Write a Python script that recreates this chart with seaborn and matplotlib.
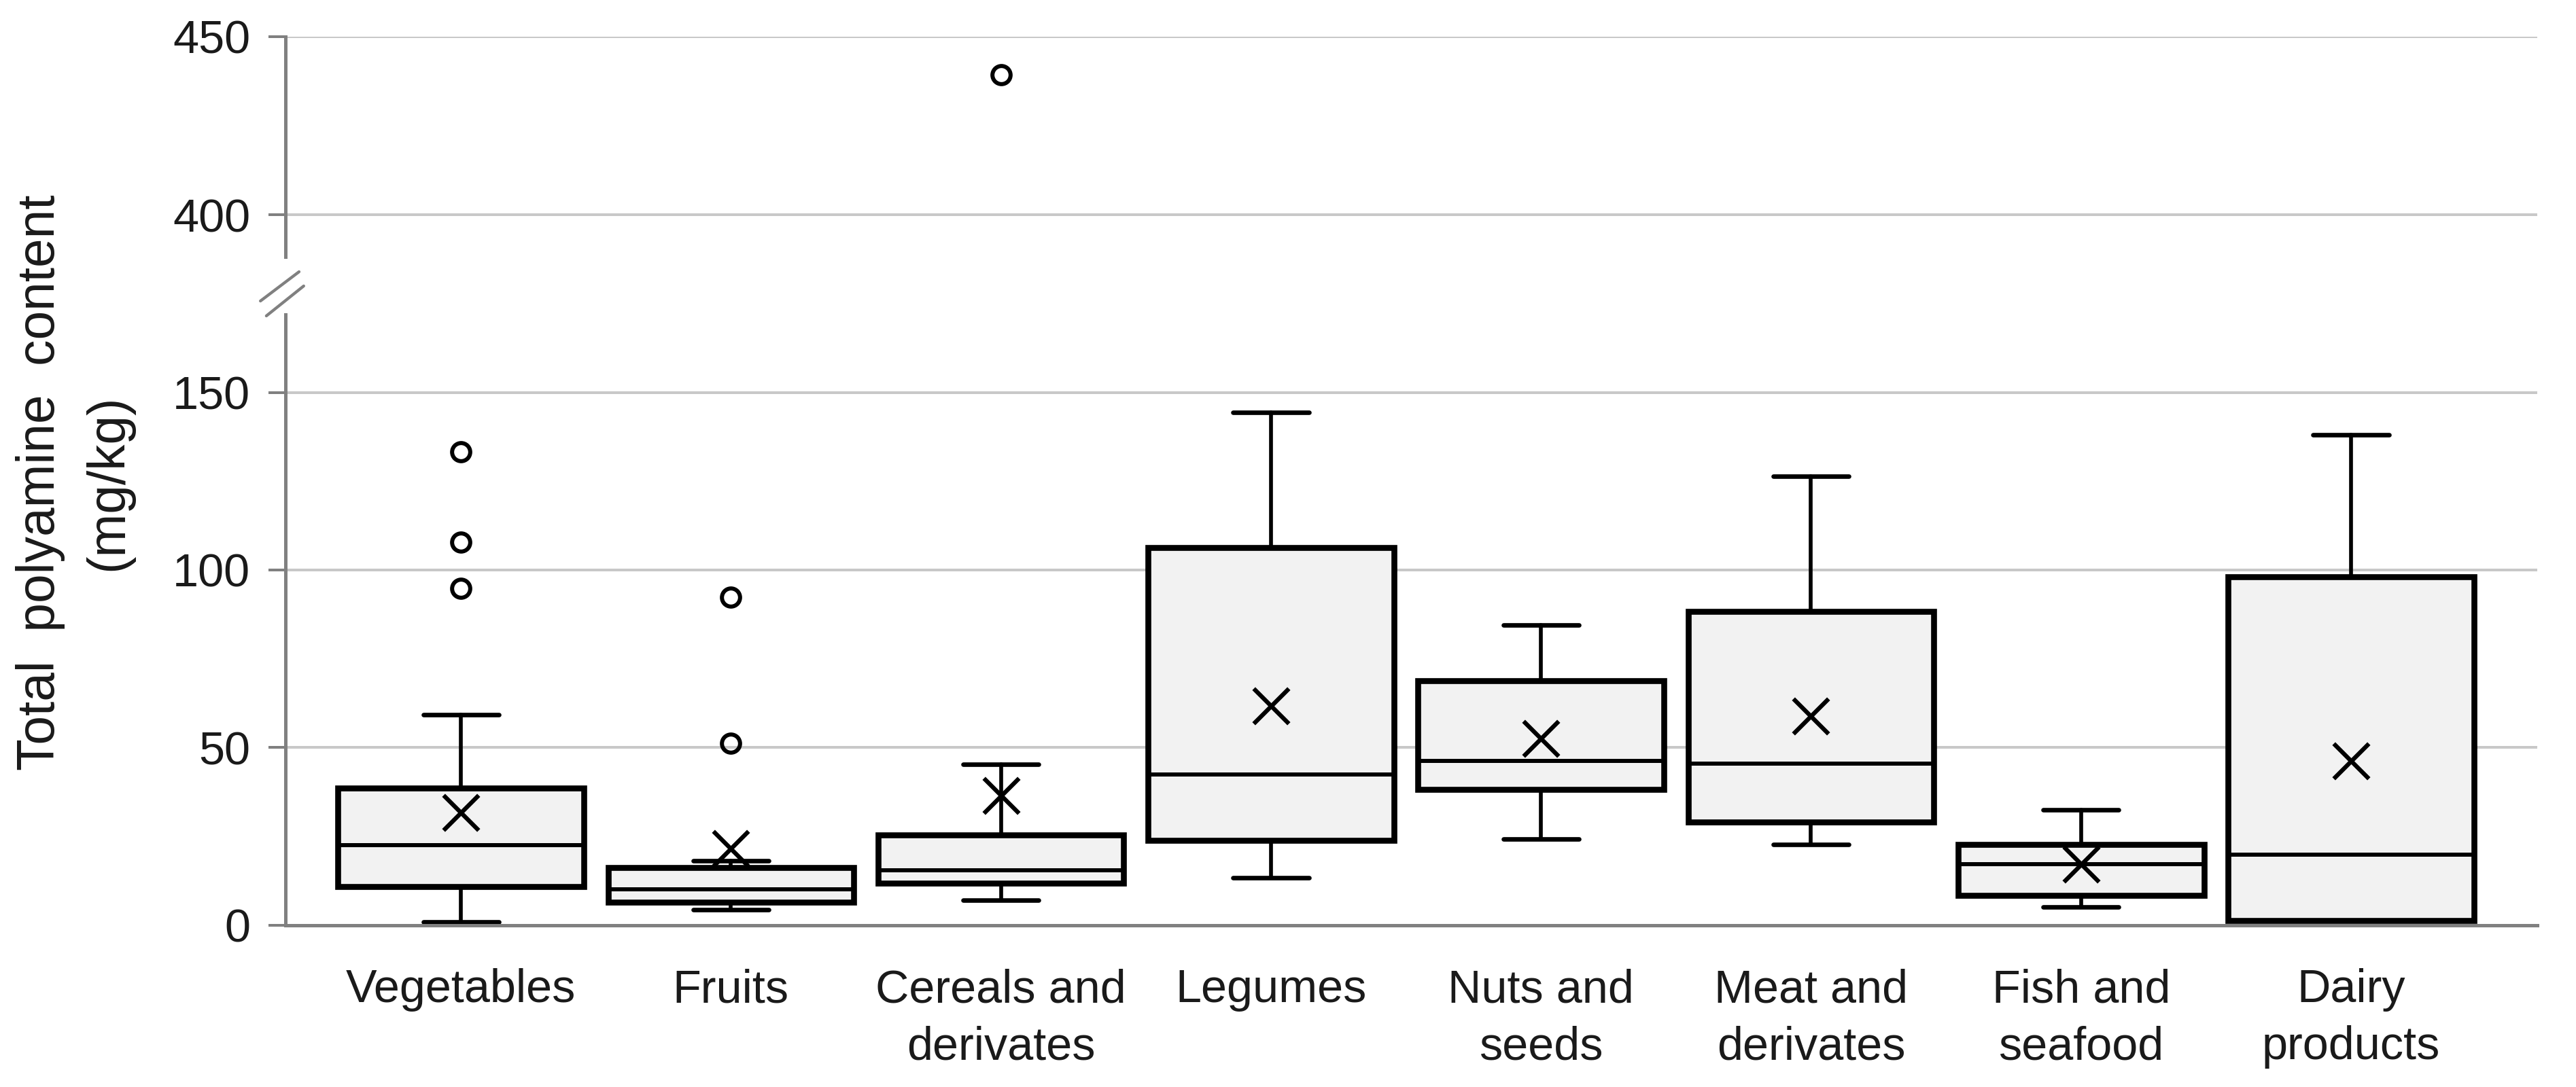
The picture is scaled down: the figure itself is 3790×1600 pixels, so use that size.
import numpy as np
import pandas as pd
import matplotlib.pyplot as plt
from matplotlib.lines import Line2D
import seaborn as sns

# values (mg/kg)
categories = ["Vegetables", "Fruits", "Cereals and\nderivates", "Legumes",
              "Nuts and\nseeds", "Meat and\nderivates", "Fish and\nseafood", "Dairy\nproducts"]
whisker_low = [1.0, 4.4, 7.0, 13.3, 24.3, 22.7, 5.1, 1.3]
q1 = [10.9, 6.5, 11.8, 23.8, 38.3, 29.1, 8.3, 1.3]
median = [22.5, 10.1, 15.4, 42.5, 46.3, 45.5, 17.1, 19.8]
q3 = [38.5, 16.2, 25.3, 106.3, 68.8, 88.3, 22.8, 98.1]
whisker_high = [59.2, 18.1, 45.3, 144.4, 84.5, 126.4, 32.5, 138.1]
means = [31.8, 21.6, 36.4, 61.8, 52.5, 58.8, 17.1, 46.3]
outliers = [[94.9, 107.9, 133.2], [51.3, 92.3], [439.3], [], [], [], [], []]

ylabel_lines = ["Total  polyamine  content", "(mg/kg)"]

sns.set_theme(style="whitegrid")
plt.rcParams['font.family'] = ['Liberation Sans', 'DejaVu Sans']

stats = []
for i, name in enumerate(categories):
    stats.append(dict(label=name, whislo=whisker_low[i], q1=q1[i], med=median[i],
                      q3=q3[i], whishi=whisker_high[i], mean=means[i], fliers=outliers[i]))
positions = np.arange(len(categories))
means_df = pd.DataFrame({"pos": positions, "mean": means})

fig = plt.figure(figsize=(3790 / 240, 1600 / 240), dpi=240)
left, width = 0.1108, 0.985 - 0.1108
ax_top = fig.add_axes([left, 0.7638, width, 0.9663 - 0.7638])
ax_bot = fig.add_axes([left, 0.1489, width, 0.7106 - 0.1489])

box_kw = dict(positions=positions, widths=0.91, capwidths=0.28, patch_artist=True,
              showfliers=True, manage_ticks=False,
              boxprops=dict(facecolor='#f2f2f2', edgecolor='black', linewidth=2.6),
              medianprops=dict(color='black', linewidth=1.8),
              whiskerprops=dict(color='black', linewidth=1.7),
              capprops=dict(color='black', linewidth=2.0),
              flierprops=dict(marker='o', markerfacecolor='none', markeredgecolor='black',
                              markersize=8, markeredgewidth=1.8))

for ax in (ax_top, ax_bot):
    ax.set_axisbelow(True)
    ax.bxp(stats, **box_kw)
    sns.scatterplot(data=means_df, x="pos", y="mean", marker="x", s=240, color="black",
                    linewidth=1.9, ax=ax, zorder=5, legend=False)
    ax.set_xlim(-0.65, 7.69)
    ax.set_xlabel("")
    ax.set_ylabel("")
    ax.grid(axis='x', visible=False)
    ax.grid(axis='y', color='#c8c8c8', linewidth=1.2)
    for s in ('top', 'right'):
        ax.spines[s].set_visible(False)
    ax.spines['left'].set_color('#808080')
    ax.spines['left'].set_linewidth(1.5)
    ax.tick_params(axis='y', left=True, length=7.5, width=1.2, color='#808080', pad=8,
                   labelsize=20.5, labelcolor='#1a1a1a')

ax_top.set_ylim(388.2, 450)
ax_top.set_yticks([400, 450])
ax_top.spines['bottom'].set_visible(False)
ax_top.set_xticks([])

ax_bot.set_ylim(0, 171.9)
ax_bot.set_yticks([0, 50, 100, 150])
ax_bot.spines['bottom'].set_color('#808080')
ax_bot.spines['bottom'].set_linewidth(1.5)
ax_bot.set_xticks(positions, categories)
ax_bot.tick_params(axis='x', length=0, pad=19, labelsize=20.5, labelcolor='#1a1a1a')
for lab in ax_bot.get_xticklabels():
    lab.set_linespacing(1.4)

# axis break marks
for xs, ys in (([0.1011, 0.1161], [0.7231, 0.7500]), ([0.1034, 0.1179], [0.7094, 0.7369])):
    fig.add_artist(Line2D(xs, ys, transform=fig.transFigure, color='#808080', linewidth=1.3))

# two-line y label, placed line by line
for xpos, txt in zip([0.0158, 0.0422], ylabel_lines):
    fig.text(xpos, 0.556, txt, rotation=90, ha='center', va='center', fontsize=23,
             color='#1a1a1a')

fig.savefig("out.png", dpi=240, facecolor='white')
